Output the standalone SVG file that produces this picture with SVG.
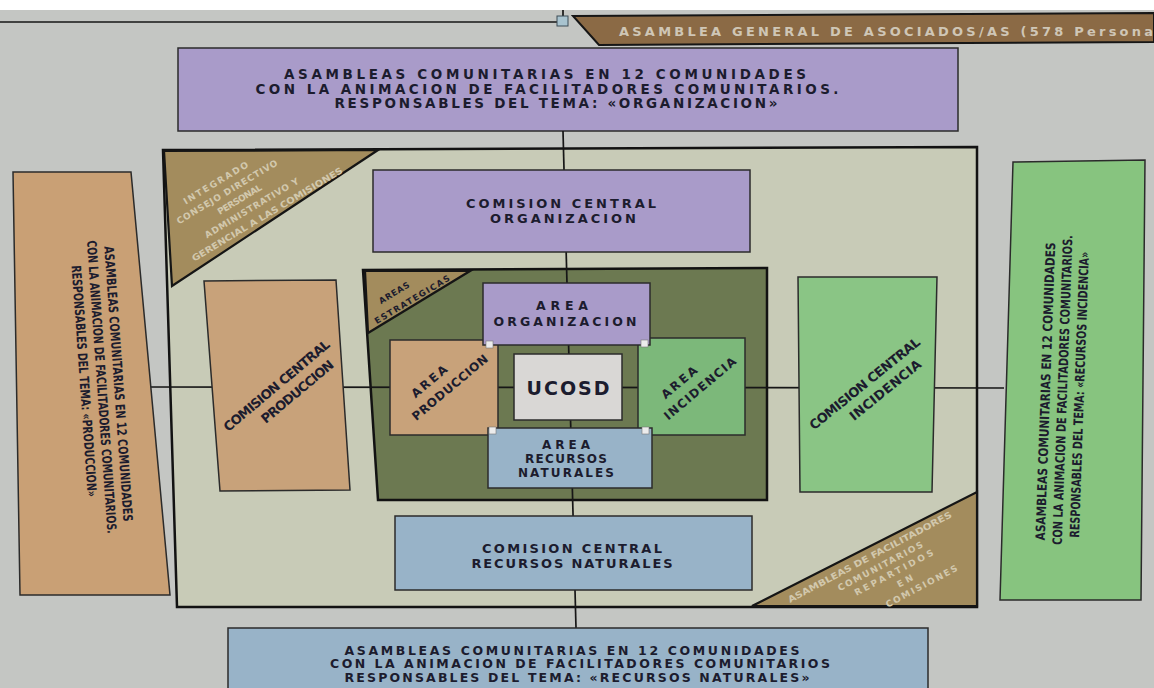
<svg xmlns="http://www.w3.org/2000/svg" width="1154" height="688" viewBox="0 0 1154 688">
<defs>
<style>
.t{font-family:"DejaVu Sans","Liberation Sans",sans-serif;font-weight:bold;fill:#1c1c2e;text-anchor:middle}
.bx{stroke:#2b2b2b;stroke-width:1.5}
.pur{fill:#a99bc9}
.tan{fill:#c8a27a}
.grn{fill:#8ac585}
.grn2{fill:#7cb87a}
.blu{fill:#98b3c8}
.tri{fill:#a38c5d;stroke:#151515;stroke-width:2.2}
.tt{font-family:"DejaVu Sans","Liberation Sans",sans-serif;font-weight:bold;fill:#d2c8ad;font-size:9px;text-anchor:middle}
.ln{stroke:#161616;stroke-width:1.7;fill:none}
.hd{fill:#ececec;stroke:#777;stroke-width:0.6}
</style>
</defs>
<rect x="0" y="0" width="1154" height="688" fill="#c4c6c3"/>
<rect x="0" y="0" width="1154" height="10" fill="#ffffff"/>

<g id="banner">
<line x1="0" y1="22" x2="557" y2="22" class="ln" stroke-width="1.2"/>
<line x1="563" y1="10" x2="563" y2="16" class="ln" stroke-width="1.2"/>
<rect x="557" y="16" width="11" height="10" fill="#a8c3cf" stroke="#3d4d57" stroke-width="1"/>
<polygon points="573,16 1154,13 1154,42 599,45" fill="#8b6a45" stroke="#161616" stroke-width="2"/>
<text x="619" y="35.5" font-family="'DejaVu Sans','Liberation Sans',sans-serif" font-weight="bold" font-size="13" fill="#cfc6b6" textLength="534" lengthAdjust="spacing">ASAMBLEA GENERAL DE ASOCIADOS/AS (578 Persona</text>
</g>

<g id="asamblea-organizacion">
<rect x="178" y="48" width="780" height="83" class="pur bx"/>
<text class="t" font-size="13.5" x="545" y="79" textLength="522" lengthAdjust="spacing">ASAMBLEAS COMUNITARIAS EN 12 COMUNIDADES</text>
<text class="t" font-size="13.5" x="547" y="93.5" textLength="583" lengthAdjust="spacing">CON LA ANIMACION DE FACILITADORES COMUNITARIOS.</text>
<text class="t" font-size="13.5" x="556" y="108" textLength="443" lengthAdjust="spacing">RESPONSABLES DEL TEMA: «ORGANIZACION»</text>
</g>

<g id="marco-comisiones">
<polygon points="163,150 977,147 977,607 177,607" fill="#c8cbb7" stroke="#121212" stroke-width="2.5"/>
</g>

<g id="triangulo-consejo">
<polygon points="164,151 378,150 172,286" class="tri"/>
<g transform="translate(240,200) rotate(-31)">
<text class="tt" x="-12" y="-24" textLength="74" lengthAdjust="spacing">INTEGRADO</text>
<text class="tt" x="-7" y="-10.5" textLength="116" lengthAdjust="spacing">CONSEJO DIRECTIVO</text>
<text class="tt" x="0" y="2.5" textLength="50" lengthAdjust="spacing">PERSONAL</text>
<text class="tt" x="6" y="16" textLength="108" lengthAdjust="spacing">ADMINISTRATIVO Y</text>
<text class="tt" x="16" y="29.5" textLength="174" lengthAdjust="spacingAndGlyphs">GERENCIAL A LAS COMISIONES</text>
</g>
</g>

<g id="triangulo-facilitadores">
<polygon points="977,492 977,606 752,606" class="tri"/>
<g transform="translate(880,570) rotate(-28)">
<text class="tt" x="-3" y="-13" textLength="184" lengthAdjust="spacingAndGlyphs">ASAMBLEAS DE FACILITADORES</text>
<text class="tt" x="2" y="0" textLength="95" lengthAdjust="spacing">COMUNITARIOS</text>
<text class="tt" x="11" y="12" textLength="88" lengthAdjust="spacing">REPARTIDOS</text>
<text class="tt" x="17" y="24.5" textLength="17" lengthAdjust="spacing">EN</text>
<text class="tt" x="29" y="37" textLength="80" lengthAdjust="spacing">COMISIONES</text>
</g>
</g>

<g id="marco-areas">
<polygon points="363,270 767,268 767,500 378,500" fill="#6c7951" stroke="#121212" stroke-width="2.5"/>
<polygon points="365,271 470,271 368,333" class="tri" stroke-width="1.8"/>
<g transform="translate(403,298) rotate(-31)">
<text class="t" font-size="8.5" x="-5" y="-6" textLength="34" lengthAdjust="spacing">AREAS</text>
<text class="t" font-size="8.5" x="7" y="9" textLength="86" lengthAdjust="spacing">ESTRATEGICAS</text>
</g>
</g>

<g id="connectors">
<line x1="563" y1="131" x2="576" y2="628" class="ln"/>
<line x1="150" y1="387" x2="1004" y2="388" class="ln"/>
</g>

<g id="asamblea-produccion">
<polygon points="13,172 131,172 170,595 20,595" class="bx" fill="#c9a075"/>
<g transform="translate(101,385) rotate(86)">
<text class="t" font-size="13" x="0" y="-13" textLength="276" lengthAdjust="spacingAndGlyphs">ASAMBLEAS COMUNITARIAS EN 12 COMUNIDADES</text>
<text class="t" font-size="13" x="2" y="4" textLength="294" lengthAdjust="spacingAndGlyphs">CON LA ANIMACION DE FACILITADORES COMUNITARIOS.</text>
<text class="t" font-size="13" x="-5" y="21" textLength="232" lengthAdjust="spacingAndGlyphs">RESPONSABLES DEL TEMA: «PRODUCCION»</text>
</g>
</g>

<g id="asamblea-incidencia">
<polygon points="1013,162 1145,160 1141,600 1000,600" class="bx" fill="#87c47f"/>
<g transform="translate(1063,392) rotate(-88)">
<text class="t" font-size="13" x="0" y="-13" textLength="298" lengthAdjust="spacingAndGlyphs">ASAMBLEAS COMUNITARIAS EN 12 COMUNIDADES</text>
<text class="t" font-size="13" x="2" y="4" textLength="310" lengthAdjust="spacingAndGlyphs">CON LA ANIMACION DE FACILITADORES COMUNITARIOS.</text>
<text class="t" font-size="13" x="-2" y="21" textLength="286" lengthAdjust="spacingAndGlyphs">RESPONSABLES DEL TEMA: «RECURSOS INCIDENCIA»</text>
</g>
</g>

<g id="comision-organizacion">
<rect x="373" y="170" width="377" height="82" class="pur bx"/>
<text class="t" font-size="13" x="561" y="207.5" textLength="190" lengthAdjust="spacing">COMISION CENTRAL</text>
<text class="t" font-size="13" x="563" y="223" textLength="146" lengthAdjust="spacing">ORGANIZACION</text>
</g>

<g id="comision-produccion">
<polygon points="204,281 336,280 350,490 220,491" class="tan bx"/>
<g transform="translate(277,386) rotate(-40)">
<text class="t" font-size="13" x="0" y="4" textLength="134" lengthAdjust="spacing">COMISION CENTRAL</text>
<text class="t" font-size="13" x="12" y="22" textLength="90" lengthAdjust="spacing">PRODUCCION</text>
</g>
</g>

<g id="comision-incidencia">
<polygon points="798,277 937,277 932,492 800,492" class="grn bx"/>
<g transform="translate(865,384) rotate(-39)">
<text class="t" font-size="13" x="0" y="4" textLength="138" lengthAdjust="spacing">COMISION CENTRAL</text>
<text class="t" font-size="13" x="12" y="22" textLength="88" lengthAdjust="spacing">INCIDENCIA</text>
</g>
</g>

<g id="comision-recursos">
<rect x="395" y="516" width="357" height="74" class="blu bx"/>
<text class="t" font-size="13" x="572" y="552.5" textLength="180" lengthAdjust="spacing">COMISION CENTRAL</text>
<text class="t" font-size="13" x="572" y="567.5" textLength="201" lengthAdjust="spacing">RECURSOS NATURALES</text>
</g>

<g id="area-produccion">
<rect x="390" y="340" width="108" height="95" class="tan bx"/>
<g transform="translate(440,385) rotate(-40)">
<text class="t" font-size="12" x="-6" y="-5.5" textLength="43" lengthAdjust="spacing">AREA</text>
<text class="t" font-size="12" x="6" y="12.5" textLength="95" lengthAdjust="spacing">PRODUCCION</text>
</g>
</g>

<g id="area-incidencia">
<rect x="638" y="338" width="107" height="97" class="grn2 bx"/>
<g transform="translate(690,386) rotate(-40)">
<text class="t" font-size="12" x="-6" y="-5.5" textLength="43" lengthAdjust="spacing">AREA</text>
<text class="t" font-size="12" x="6" y="12.5" textLength="90" lengthAdjust="spacing">INCIDENCIA</text>
</g>
</g>

<g id="area-organizacion">
<rect x="483" y="283" width="167" height="62" class="pur bx"/>
<text class="t" font-size="12.5" x="562" y="310" textLength="52" lengthAdjust="spacing">AREA</text>
<text class="t" font-size="12.5" x="565" y="326" textLength="143" lengthAdjust="spacing">ORGANIZACION</text>
</g>

<g id="area-recursos">
<rect x="488" y="428" width="164" height="60" class="blu bx"/>
<text class="t" font-size="12" x="566" y="448.5" textLength="48" lengthAdjust="spacing">AREA</text>
<text class="t" font-size="12" x="566" y="462.5" textLength="82" lengthAdjust="spacing">RECURSOS</text>
<text class="t" font-size="12" x="566" y="476.5" textLength="96" lengthAdjust="spacing">NATURALES</text>
</g>

<g id="handles">
<rect x="486" y="341" width="7" height="7" class="hd"/>
<rect x="641" y="340" width="7" height="7" class="hd"/>
<rect x="489" y="427" width="7" height="7" class="hd"/>
<rect x="642" y="427" width="7" height="7" class="hd"/>
</g>

<g id="ucosd">
<rect x="514" y="354" width="108" height="66" class="bx" fill="#d9d7d5"/>
<text class="t" font-size="19" x="568" y="394.5" textLength="83" lengthAdjust="spacing">UCOSD</text>
</g>

<g id="asamblea-recursos">
<rect x="228" y="628" width="700" height="62" class="blu bx"/>
<text class="t" font-size="12.5" x="572" y="654.5" textLength="455" lengthAdjust="spacing">ASAMBLEAS COMUNITARIAS EN 12 COMUNIDADES</text>
<text class="t" font-size="12.5" x="580" y="668" textLength="500" lengthAdjust="spacing">CON LA ANIMACION DE FACILITADORES COMUNITARIOS</text>
<text class="t" font-size="12.5" x="577" y="681.5" textLength="465" lengthAdjust="spacing">RESPONSABLES DEL TEMA: «RECURSOS NATURALES»</text>
</g>
</svg>
